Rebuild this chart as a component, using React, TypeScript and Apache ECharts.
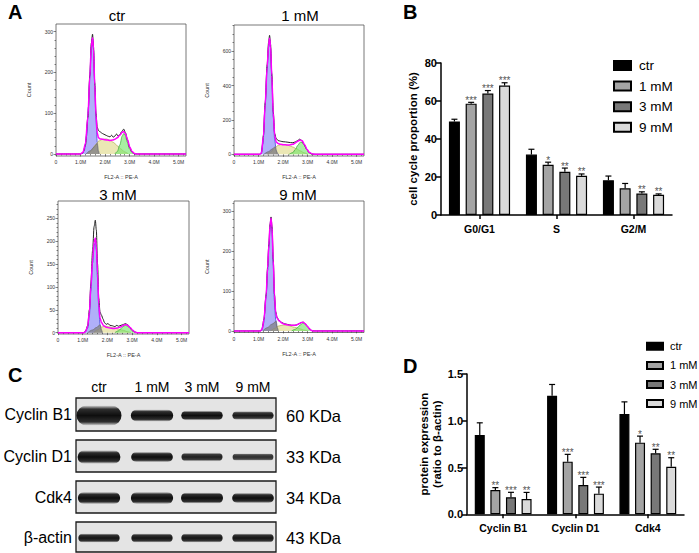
import React, { useEffect, useRef } from "react";
import * as echarts from "echarts";

const FONT = "'Liberation Sans', Arial, Helvetica, sans-serif";

// ---------- Panel A: cell-cycle histograms (x: FL2-A in millions, y: count) ----------
const histTitles = ["ctr", "1 mM", "3 mM", "9 mM"];
const histXTicks = [0, 1, 2, 3, 4, 5];
const histYTicks = [
  [0, 100, 200, 300],
  [0, 200, 400, 600],
  [0, 50, 100, 150, 200, 250],
  [0, 100, 200, 300],
];
const histYMinorStep = [20, 50, 10, 20];
const histYMin = [-5, -10, -3, -4];
const histYMax = [319, 752, 288, 326];

const ctrRaw = [[0,0],[1.0,0],[1.1,3],[1.2,22],[1.3,90],[1.38,195],[1.44,272],[1.49,294],[1.53,262],[1.58,175],[1.63,100],[1.68,66],[1.73,58],[1.8,54],[1.9,50],[2.0,47],[2.1,44],[2.2,42],[2.27,46],[2.33,41],[2.4,44],[2.47,49],[2.53,44],[2.6,47],[2.68,55],[2.76,61],[2.83,52],[2.92,33],[3.0,16],[3.1,5],[3.2,0],[5.3,0]];
const ctrFit = [[0,0],[1.0,0],[1.1,4],[1.2,25],[1.3,92],[1.38,190],[1.44,265],[1.49,285],[1.53,258],[1.58,170],[1.63,95],[1.68,52],[1.73,40],[1.8,37],[1.9,36],[2.0,35],[2.1,34],[2.2,33],[2.3,34],[2.4,36],[2.5,40],[2.6,46],[2.7,53],[2.76,55],[2.83,50],[2.92,35],[3.0,18],[3.1,6],[3.2,1],[3.3,0],[5.3,0]];
const ctrG1 = [[1.05,0],[1.15,8],[1.25,45],[1.32,115],[1.38,190],[1.44,262],[1.49,283],[1.53,255],[1.58,165],[1.63,85],[1.68,30],[1.73,8],[1.78,0]];
const ctrDebris = [[1.22,0],[1.4,8],[1.55,17],[1.68,26],[1.72,8],[1.74,0]];
const ctrS = [[1.3,0],[1.45,8],[1.6,22],[1.75,32],[1.9,36],[2.05,37],[2.2,34],[2.35,28],[2.5,20],[2.65,12],[2.8,5],[2.95,0]];
const ctrG2 = [[2.4,0],[2.5,6],[2.6,22],[2.7,44],[2.76,50],[2.82,46],[2.9,30],[3.0,12],[3.1,3],[3.2,0]];

const mM1Raw = [[0,0],[1.05,0],[1.12,8],[1.2,110],[1.27,300],[1.35,520],[1.41,650],[1.45,692],[1.49,640],[1.54,470],[1.6,250],[1.66,120],[1.72,92],[1.8,80],[1.9,76],[2.0,73],[2.1,72],[2.2,70],[2.3,68],[2.4,67],[2.5,72],[2.6,80],[2.68,88],[2.75,82],[2.85,60],[2.95,32],[3.05,12],[3.15,2],[3.25,0],[5.3,0]];
const mM1Fit = [[0,0],[1.05,0],[1.12,8],[1.2,105],[1.27,290],[1.35,505],[1.41,635],[1.45,675],[1.49,630],[1.54,460],[1.6,240],[1.66,110],[1.72,72],[1.8,62],[1.9,58],[2.0,56],[2.1,55],[2.2,54],[2.3,55],[2.4,58],[2.5,66],[2.6,76],[2.7,83],[2.78,78],[2.88,55],[2.98,28],[3.08,10],[3.2,2],[3.3,0],[5.3,0]];
const mM1G1 = [[1.1,0],[1.18,60],[1.27,280],[1.35,495],[1.41,625],[1.45,668],[1.49,620],[1.54,445],[1.6,220],[1.66,85],[1.72,25],[1.78,4],[1.82,0]];
const mM1Debris = [[1.22,0],[1.4,15],[1.55,30],[1.68,44],[1.74,14],[1.77,0]];
const mM1S = [[1.35,0],[1.5,12],[1.65,35],[1.8,52],[1.95,58],[2.1,56],[2.25,50],[2.4,42],[2.55,32],[2.7,20],[2.85,9],[3.0,0]];
const mM1G2 = [[2.25,0],[2.4,10],[2.5,28],[2.6,52],[2.7,70],[2.78,68],[2.88,50],[2.98,25],[3.08,8],[3.2,0]];

const mM3Raw = [[0,0],[1.05,0],[1.12,4],[1.2,15],[1.27,50],[1.33,110],[1.4,180],[1.46,232],[1.51,246],[1.55,225],[1.6,150],[1.65,75],[1.7,45],[1.76,38],[1.82,30],[1.88,22],[1.95,18],[2.02,20],[2.1,16],[2.2,15],[2.3,13],[2.38,16],[2.45,14],[2.55,16],[2.65,18],[2.73,20],[2.82,17],[2.92,10],[3.02,4],[3.12,1],[3.2,0],[5.3,0]];
const mM3Fit = [[0,0],[1.05,0],[1.12,3],[1.2,14],[1.27,45],[1.33,100],[1.4,160],[1.46,198],[1.51,207],[1.55,190],[1.6,130],[1.65,62],[1.7,32],[1.76,22],[1.85,15],[1.95,12],[2.1,10],[2.25,9],[2.4,10],[2.55,13],[2.65,16],[2.73,18],[2.82,16],[2.92,11],[3.02,5],[3.12,1],[3.22,0],[5.3,0]];
const mM3G1 = [[1.1,0],[1.2,10],[1.27,38],[1.33,92],[1.4,152],[1.46,190],[1.51,198],[1.55,182],[1.6,120],[1.65,52],[1.7,18],[1.76,4],[1.8,0]];
const mM3Debris = [[1.2,0],[1.4,6],[1.55,11],[1.7,17],[1.76,6],[1.79,0]];
const mM3S = [[1.45,0],[1.6,6],[1.75,12],[1.9,14],[2.05,13],[2.2,11],[2.35,9],[2.5,7],[2.65,5],[2.8,2],[2.95,0]];
const mM3G2 = [[2.3,0],[2.45,4],[2.55,9],[2.65,14],[2.73,16],[2.82,14],[2.92,9],[3.02,4],[3.12,1],[3.2,0]];

const mM9Raw = [[0,0],[1.08,0],[1.15,5],[1.22,30],[1.31,92],[1.37,160],[1.42,218],[1.47,268],[1.51,286],[1.55,262],[1.6,180],[1.65,92],[1.7,48],[1.76,33],[1.85,26],[1.95,21],[2.05,18],[2.2,16],[2.35,14],[2.46,14],[2.55,15],[2.65,18],[2.75,21],[2.82,22],[2.9,18],[3.0,11],[3.08,5],[3.16,1],[3.25,0],[5.3,0]];
const mM9Fit = [[0,0],[1.08,0],[1.15,5],[1.22,28],[1.31,90],[1.37,158],[1.42,215],[1.47,265],[1.51,283],[1.55,260],[1.6,178],[1.65,90],[1.7,46],[1.76,31],[1.85,25],[1.95,20],[2.05,17],[2.2,15],[2.35,14],[2.46,14],[2.55,15],[2.65,18],[2.75,21],[2.82,22],[2.9,18],[3.0,11],[3.08,5],[3.16,1],[3.25,0],[5.3,0]];
const mM9G1 = [[1.12,0],[1.2,18],[1.31,85],[1.37,152],[1.42,208],[1.47,258],[1.51,276],[1.55,250],[1.6,165],[1.65,75],[1.7,28],[1.75,8],[1.8,0]];
const mM9Debris = [[1.17,0],[1.35,8],[1.55,17],[1.72,24],[1.77,8],[1.8,0]];
const mM9S = [[1.5,0],[1.65,6],[1.8,12],[1.95,14],[2.1,15],[2.25,13],[2.4,10],[2.55,8],[2.7,5],[2.85,2],[3.0,0]];
const mM9G2 = [[2.35,0],[2.5,4],[2.6,9],[2.7,15],[2.8,19],[2.88,18],[2.98,12],[3.08,5],[3.18,1],[3.25,0]];

// ---------- Panel B: cell cycle proportion (%) ----------
const groups = ["ctr", "1 mM", "3 mM", "9 mM"];
const bCategories = ["G0/G1", "S", "G2/M"];
const bMeanCtr = [49.2, 31.8, 18.3];
const bErrCtr = [1.2, 2.8, 2.2];
const bMean1 = [58.6, 26.4, 14.1];
const bErr1 = [0.7, 1.4, 2.5];
const bMean3 = [63.9, 22.8, 11.3];
const bErr3 = [1.6, 1.9, 0.9];
const bMean9 = [68.1, 20.6, 10.6];
const bErr9 = [1.5, 1.0, 0.5];
const bStarsCtr = [0, 0, 0];
const bStars1 = [3, 1, 0];
const bStars3 = [3, 2, 2];
const bStars9 = [3, 2, 2];

// ---------- Panel D: protein expression (ratio to β-actin) ----------
const dCategories = ["Cyclin B1", "Cyclin D1", "Cdk4"];
const dMeanCtr = [0.848, 1.268, 1.072];
const dErrCtr = [0.13, 0.12, 0.13];
const dMean1 = [0.26, 0.563, 0.766];
const dErr1 = [0.025, 0.078, 0.07];
const dMean3 = [0.182, 0.313, 0.652];
const dErr3 = [0.053, 0.082, 0.043];
const dMean9 = [0.164, 0.221, 0.509];
const dErr9 = [0.07, 0.07, 0.096];
const dStarsCtr = [0, 0, 0];
const dStars1 = [2, 3, 1];
const dStars3 = [3, 3, 2];
const dStars9 = [2, 3, 2];

// ---------- Panel C: western blot (relative band strength) ----------
const blotLanes = ["ctr", "1 mM", "3 mM", "9 mM"];
const blotProteins = ["Cyclin B1", "Cyclin D1", "Cdk4", "β-actin"];
const blotSizes = ["60 KDa", "33 KDa", "34 KDa", "43 KDa"];
const bandCyclinB1 = [1.0, 0.48, 0.3, 0.24];
const bandCyclinD1 = [0.56, 0.34, 0.22, 0.15];
const bandCdk4 = [0.46, 0.46, 0.4, 0.34];
const bandActin = [0.27, 0.27, 0.27, 0.27];

const groupColors = ["#000000", "#a4a4a4", "#787878", "#dadada"];

function buildOption() {
  const histData = [
    { raw: ctrRaw, fit: ctrFit, g1: ctrG1, debris: ctrDebris, s: ctrS, g2: ctrG2 },
    { raw: mM1Raw, fit: mM1Fit, g1: mM1G1, debris: mM1Debris, s: mM1S, g2: mM1G2 },
    { raw: mM3Raw, fit: mM3Fit, g1: mM3G1, debris: mM3Debris, s: mM3S, g2: mM3G2 },
    { raw: mM9Raw, fit: mM9Fit, g1: mM9G1, debris: mM9Debris, s: mM9S, g2: mM9G2 },
  ];
  const histGrids = [
    { left: 56, top: 24, width: 130, height: 132 },
    { left: 234, top: 25, width: 130, height: 131 },
    { left: 58, top: 201, width: 131, height: 133 },
    { left: 234, top: 201, width: 130, height: 131.5 },
  ];
  const titlePos = [[117, 15], [300, 15], [118, 194], [298, 194]];

  const grid: any[] = histGrids.map((g) => ({
    ...g,
    show: true,
    borderColor: "#555",
    borderWidth: 0.8,
    backgroundColor: "#fff",
  }));
  grid.push({ left: 441, top: 63, width: 231, height: 152 });
  grid.push({ left: 467, top: 374, width: 217, height: 140.3 });

  const xMinor: number[] = [];
  for (let v = 0.2; v < 5.3; v += 0.2) {
    if (Math.abs(v - Math.round(v)) > 0.01) xMinor.push(Math.round(v * 10) / 10);
  }
  const tickStyle = { color: "#333", width: 0.6 };
  const xAxis: any[] = [];
  const yAxis: any[] = [];
  const series: any[] = [];

  histData.forEach((d, i) => {
    xAxis.push({
      type: "value", gridIndex: i, min: 0, max: 5.3, position: "bottom", offset: 0,
      axisLine: { show: false }, splitLine: { show: false },
      axisTick: { show: true, customValues: histXTicks, length: 2.5, lineStyle: tickStyle },
      axisLabel: {
        customValues: histXTicks, fontSize: 5, color: "#333", margin: 3.5, fontFamily: FONT,
        formatter: (v: number) => (v === 0 ? "0" : v.toFixed(1) + "M"),
      },
      name: "FL2-A :: PE-A", nameLocation: "middle", nameGap: 18,
      nameTextStyle: { fontSize: 5.5, color: "#333", fontFamily: FONT },
    });
    xAxis.push({
      type: "value", gridIndex: i, min: 0, max: 5.3, position: "bottom", offset: 0,
      axisLine: { show: false }, splitLine: { show: false }, axisLabel: { show: false },
      axisTick: { show: true, customValues: xMinor, length: 1.5, lineStyle: tickStyle },
    });
    const yMinor: number[] = [];
    const step = histYMinorStep[i];
    const ticks = histYTicks[i];
    for (let v = step; v < histYMax[i]; v += step) {
      if (!ticks.includes(v)) yMinor.push(v);
    }
    yAxis.push({
      type: "value", gridIndex: i, min: histYMin[i], max: histYMax[i], position: "left", offset: 0,
      axisLine: { show: false }, splitLine: { show: false },
      axisTick: { show: true, customValues: ticks, length: 2.5, lineStyle: tickStyle },
      axisLabel: { customValues: ticks, fontSize: 5, color: "#333", margin: 3, fontFamily: FONT },
      name: "Count", nameLocation: "middle", nameGap: 24,
      nameTextStyle: { fontSize: 5.5, color: "#333", fontFamily: FONT },
    });
    yAxis.push({
      type: "value", gridIndex: i, min: histYMin[i], max: histYMax[i], position: "left", offset: 0,
      axisLine: { show: false }, splitLine: { show: false }, axisLabel: { show: false },
      axisTick: { show: true, customValues: yMinor, length: 1.5, lineStyle: tickStyle },
    });

    const base = {
      type: "line", xAxisIndex: 2 * i, yAxisIndex: 2 * i, symbol: "none",
      smooth: 0.3, smoothMonotone: "x", silent: true,
    };
    const fill = (name: string, data: number[][], fc: string, lc: string, z: number) => ({
      ...base, name: histTitles[i] + " " + name, data,
      lineStyle: { color: lc, width: 0.7 }, areaStyle: { color: fc, opacity: 1 }, z,
    });
    series.push(fill("G1", d.g1, "rgba(128,128,245,0.62)", "#2d2dd6", 2));
    series.push(fill("S", d.s, "rgba(222,215,130,0.6)", "#b3ab58", 3));
    series.push(fill("debris", d.debris, "rgba(128,128,128,0.72)", "#6e6e6e", 4));
    series.push(fill("G2", d.g2, "rgba(115,228,105,0.62)", "#3aa836", 5));
    series.push({ ...base, name: histTitles[i] + " raw", data: d.raw, lineStyle: { color: "#222", width: 1 }, z: 6 });
    series.push({ ...base, name: histTitles[i] + " fit", data: d.fit, lineStyle: { color: "#ff00ff", width: 1.5 }, z: 7 });
  });

  // ---------- bar charts B and D ----------
  const axisLineStyle = { color: "#000", width: 1.5 };
  xAxis.push({
    type: "category", gridIndex: 4, data: bCategories,
    axisLine: { lineStyle: axisLineStyle },
    axisTick: { show: true, alignWithLabel: true, length: 4, lineStyle: axisLineStyle },
    axisLabel: { fontWeight: "bold", fontSize: 10.5, color: "#000", margin: 8, fontFamily: FONT },
  });
  yAxis.push({
    type: "value", gridIndex: 4, min: 0, max: 80, interval: 20,
    axisLine: { show: true, lineStyle: axisLineStyle },
    axisTick: { show: true, length: 5, lineStyle: axisLineStyle },
    splitLine: { show: false },
    axisLabel: { fontWeight: "bold", fontSize: 11, color: "#000", margin: 4, fontFamily: FONT },
    name: "cell cycle proportion (%)", nameLocation: "middle", nameGap: 22,
    nameTextStyle: { fontWeight: "bold", fontSize: 11.5, color: "#000", fontFamily: FONT },
  });
  xAxis.push({
    type: "category", gridIndex: 5, data: dCategories,
    axisLine: { lineStyle: axisLineStyle },
    axisTick: { show: true, alignWithLabel: true, length: 4, lineStyle: axisLineStyle },
    axisLabel: { fontWeight: "bold", fontSize: 10.5, color: "#000", margin: 8, fontFamily: FONT },
  });
  yAxis.push({
    type: "value", gridIndex: 5, min: 0, max: 1.5, interval: 0.5,
    axisLine: { show: true, lineStyle: axisLineStyle },
    axisTick: { show: true, length: 5, lineStyle: axisLineStyle },
    splitLine: { show: false },
    axisLabel: {
      fontWeight: "bold", fontSize: 11, color: "#000", margin: 4, fontFamily: FONT,
      formatter: (v: number) => v.toFixed(1),
    },
    name: "protein expression\n(ratio to β-actin)", nameLocation: "middle", nameGap: 20,
    nameTextStyle: { fontWeight: "bold", fontSize: 11.5, lineHeight: 13, color: "#000", fontFamily: FONT, align: "center" },
  });

  const addBars = (
    axisIdx: number, means: number[][], errs: number[][], stars: number[][],
    barW: number, gap: number,
  ) => {
    groups.forEach((gname, k) => {
      series.push({
        type: "bar", name: gname, xAxisIndex: axisIdx, yAxisIndex: axisIdx,
        data: means[k], barWidth: barW, barGap: Math.round(gap * 100) + "%",
        itemStyle: { color: groupColors[k], borderColor: "#000", borderWidth: 1.2 },
        silent: true, z: 2,
      });
    });
    groups.forEach((gname, k) => {
      const dx = (k - 1.5) * barW * (1 + gap);
      // error bars
      series.push({
        type: "custom", name: "err " + gname, xAxisIndex: axisIdx, yAxisIndex: axisIdx,
        silent: true, z: 5,
        data: means[k].map((m, j) => [j, m, errs[k][j]]),
        renderItem: (_p: any, api: any) => {
          const j = api.value(0), m = api.value(1), e = api.value(2);
          const b = api.coord([j, m]);
          const t = api.coord([j, m + e]);
          const x = b[0] + dx;
          return {
            type: "group",
            children: [
              { type: "line", shape: { x1: x, y1: b[1], x2: x, y2: t[1] }, style: { stroke: "#000", lineWidth: 1.2 } },
              { type: "line", shape: { x1: x - 3, y1: t[1], x2: x + 3, y2: t[1] }, style: { stroke: "#000", lineWidth: 1.2 } },
            ],
          };
        },
      });
      // significance stars
      series.push({
        type: "scatter", name: "sig " + gname, xAxisIndex: axisIdx, yAxisIndex: axisIdx,
        silent: true, z: 6, symbolSize: 0,
        itemStyle: { color: "#222" },
        data: means[k].map((m, j) => ({ value: [j, m + errs[k][j]], stars: stars[k][j] })),
        label: {
          show: true, position: "top", distance: 0, offset: [dx, 3],
          color: "#222", fontSize: 10, fontFamily: FONT,
          formatter: (p: any) => "*".repeat(p.data.stars || 0),
        },
      });
    });
  };
  addBars(8, [bMeanCtr, bMean1, bMean3, bMean9], [bErrCtr, bErr1, bErr3, bErr9],
    [bStarsCtr, bStars1, bStars3, bStars9], 11, 0.52);
  addBars(9, [dMeanCtr, dMean1, dMean3, dMean9], [dErrCtr, dErr1, dErr3, dErr9],
    [dStarsCtr, dStars1, dStars3, dStars9], 10, 0.56);

  const legend = [
    {
      data: groups, orient: "vertical", left: 613, top: 58.5, icon: "rect", padding: 0,
      itemWidth: 17, itemHeight: 9, itemGap: 6.6,
      textStyle: { fontSize: 13.5, lineHeight: 14, color: "#000", fontFamily: FONT, padding: [0, 0, 0, 3] },
      selectedMode: false,
    },
    {
      data: groups, orient: "vertical", left: 646, top: 340.3, icon: "rect", padding: 0,
      itemWidth: 16, itemHeight: 7, itemGap: 7.1,
      textStyle: { fontSize: 11, lineHeight: 12, color: "#000", fontFamily: FONT, padding: [0, 0, 0, 2] },
      selectedMode: false,
    },
  ];

  // ---------- graphics: panel letters, histogram titles, western blot ----------
  const txt = (text: string, x: number, y: number, font: string, align = "left", valign = "middle") => ({
    type: "text", x, y, silent: true,
    style: { text, font, fill: "#000", align, verticalAlign: valign },
  });
  const graphic: any[] = [];
  graphic.push(txt("A", 8, 12, `bold 20px ${FONT}`));
  graphic.push(txt("B", 403, 12, `bold 20px ${FONT}`));
  graphic.push(txt("C", 8, 375, `bold 20px ${FONT}`));
  graphic.push(txt("D", 403, 366, `bold 20px ${FONT}`));
  histTitles.forEach((t, i) => graphic.push(txt(t, titlePos[i][0], titlePos[i][1], `15px ${FONT}`, "center")));

  const laneX = [99, 152, 202, 253];
  const boxTops = [398, 440, 481, 522];
  const boxH = [33, 32, 32, 30];
  const strengths = [bandCyclinB1, bandCyclinD1, bandCdk4, bandActin];
  blotLanes.forEach((l, j) => graphic.push(txt(l, laneX[j], 387, `14px ${FONT}`, "center")));
  blotProteins.forEach((p, r) => {
    const top = boxTops[r];
    const h = boxH[r];
    const cy = top + h / 2 + 1;
    graphic.push({
      type: "rect", silent: true,
      shape: { x: 76, y: top, width: 200, height: h },
      style: { fill: "#e4e4e4", stroke: "#1a1a1a", lineWidth: 1.3 },
    });
    strengths[r].forEach((s, j) => {
      const th = 2 + 15 * s + 3;
      const w = 40 + 5 * s;
      const a = Math.min(1, 0.7 + s);
      const c = (al: number) => `rgba(14,14,14,${al})`;
      graphic.push({
        type: "rect", silent: true,
        shape: { x: laneX[j] - w / 2, y: cy - th / 2, width: w, height: th, r: th / 2 },
        style: {
          fill: {
            type: "linear", x: 0, y: 0, x2: 0, y2: 1,
            colorStops: [
              { offset: 0, color: c(0.05) },
              { offset: 0.18, color: c(a * 0.85) },
              { offset: 0.5, color: c(a) },
              { offset: 0.82, color: c(a * 0.85) },
              { offset: 1, color: c(0.05) },
            ],
          },
        },
      });
    });
    graphic.push(txt(p, 72, top + h / 2, `16px ${FONT}`, "right"));
    graphic.push(txt(blotSizes[r], 286, top + h / 2 + 1, `16.5px ${FONT}`, "left"));
  });

  return {
    animation: false,
    backgroundColor: "#ffffff",
    textStyle: { fontFamily: FONT },
    grid, xAxis, yAxis, series, legend, graphic,
  };
}

export default function App() {
  const ref = useRef<HTMLDivElement>(null);
  useEffect(() => {
    const chart = echarts.init(ref.current!, null, { renderer: "svg" });
    chart.setOption(buildOption() as any);
    return () => chart.dispose();
  }, []);
  return (
    <div
      ref={ref}
      style={{ position: "fixed", left: 0, top: 0, width: 699, height: 553, background: "#fff" }}
    />
  );
}
